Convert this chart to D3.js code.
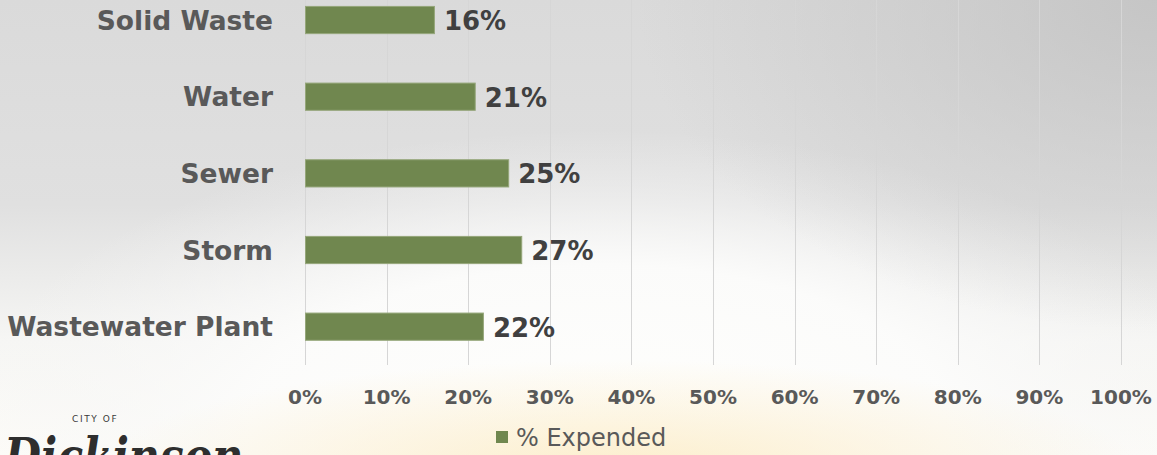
<!DOCTYPE html>
<html>
<head>
<meta charset="utf-8">
<script src="https://cdn.jsdelivr.net/npm/d3@7"></script>
<style>
  html, body { margin: 0; padding: 0; background: #ffffff; }
  svg { display: block; }
  text { font-family: "Century Gothic", "DejaVu Sans", sans-serif; }
</style>
</head>
<body>
<svg id="chart" width="1157" height="455"></svg>
<script>
// ---- data ----
const categories = ["Solid Waste", "Water", "Sewer", "Storm", "Wastewater Plant"];
const expended = [0.158, 0.208, 0.249, 0.265, 0.218];
const valueLabels = ["16%", "21%", "25%", "27%", "22%"];
const tickValues = [0, 0.1, 0.2, 0.3, 0.4, 0.5, 0.6, 0.7, 0.8, 0.9, 1.0];
const tickLabels = ["0%", "10%", "20%", "30%", "40%", "50%", "60%", "70%", "80%", "90%", "100%"];
const seriesName = "% Expended";

const W = 1157, H = 455;
const svg = d3.select("#chart");

// ---- background ----
const defs = svg.append("defs");
const lg = defs.append("linearGradient").attr("id", "bgLin").attr("x1", 0).attr("y1", 0).attr("x2", 0).attr("y2", 1);
lg.append("stop").attr("offset", "0%").attr("stop-color", "#dadada");
lg.append("stop").attr("offset", "45%").attr("stop-color", "#e0e0e0");
lg.append("stop").attr("offset", "75%").attr("stop-color", "#f6f6f4");
lg.append("stop").attr("offset", "100%").attr("stop-color", "#fdfcf8");
svg.append("rect").attr("width", W).attr("height", H).attr("fill", "url(#bgLin)");

// light dome in the lower middle
const rgW = defs.append("radialGradient").attr("id", "bgWhite")
  .attr("gradientUnits", "userSpaceOnUse")
  .attr("cx", 0).attr("cy", 0).attr("r", 1)
  .attr("gradientTransform", "translate(600,430) scale(640,300)");
rgW.append("stop").attr("offset", "0%").attr("stop-color", "#fefefc").attr("stop-opacity", 1);
rgW.append("stop").attr("offset", "55%").attr("stop-color", "#fcfcfb").attr("stop-opacity", 0.95);
rgW.append("stop").attr("offset", "100%").attr("stop-color", "#f4f4f4").attr("stop-opacity", 0);
svg.append("rect").attr("width", W).attr("height", H).attr("fill", "url(#bgWhite)");

// warm glow at the bottom
const rg = defs.append("radialGradient").attr("id", "bgWarm")
  .attr("gradientUnits", "userSpaceOnUse")
  .attr("cx", 0).attr("cy", 0).attr("r", 1)
  .attr("gradientTransform", "translate(620,470) scale(520,110)");
rg.append("stop").attr("offset", "0%").attr("stop-color", "#fcecc6").attr("stop-opacity", 0.9);
rg.append("stop").attr("offset", "100%").attr("stop-color", "#fcecc6").attr("stop-opacity", 0);
svg.append("rect").attr("width", W).attr("height", H).attr("fill", "url(#bgWarm)");

// darker top-right corner
const rg2 = defs.append("radialGradient").attr("id", "bgDark")
  .attr("gradientUnits", "userSpaceOnUse")
  .attr("cx", 0).attr("cy", 0).attr("r", 1)
  .attr("gradientTransform", "translate(1157,0) scale(520,330)");
rg2.append("stop").attr("offset", "0%").attr("stop-color", "#c2c2c2").attr("stop-opacity", 0.85);
rg2.append("stop").attr("offset", "100%").attr("stop-color", "#c2c2c2").attr("stop-opacity", 0);
svg.append("rect").attr("width", W).attr("height", H).attr("fill", "url(#bgDark)");

// ---- scales ----
const x = d3.scaleLinear().domain([0, 1]).range([305, 1121]);
const y = d3.scaleBand().domain(categories).range([-18.3, 365]).paddingInner(0.645).paddingOuter(0.3225);

// ---- gridlines ----
svg.append("g").selectAll("line").data(tickValues).join("line")
  .attr("x1", d => Math.round(x(d)) + 0.5).attr("x2", d => Math.round(x(d)) + 0.5)
  .attr("y1", 0).attr("y2", 365)
  .attr("stroke", "#d6d6d6").attr("stroke-width", 1);

// ---- x tick labels ----
svg.append("g").selectAll("text").data(tickValues).join("text")
  .attr("x", d => x(d)).attr("y", 404)
  .attr("text-anchor", "middle")
  .attr("font-size", 20).attr("font-weight", "bold").attr("fill", "#595959")
  .text((d, i) => tickLabels[i]);

// ---- bars ----
const data = categories.map((c, i) => ({ c, v: expended[i], l: valueLabels[i] }));
svg.append("g").selectAll("rect").data(data).join("rect")
  .attr("x", x(0) + 0.5)
  .attr("y", d => y(d.c))
  .attr("width", d => x(d.v) - x(0))
  .attr("height", y.bandwidth())
  .attr("fill", "#70874f")
  .attr("stroke", "#95a67a").attr("stroke-width", 1);

// ---- value labels ----
svg.append("g").selectAll("text").data(data).join("text")
  .attr("x", d => x(d.v) + 10)
  .attr("y", d => y(d.c) + y.bandwidth() / 2)
  .attr("dy", "0.38em")
  .attr("font-size", 26).attr("font-weight", "bold").attr("fill", "#404040")
  .text(d => d.l);

// ---- category labels ----
svg.append("g").selectAll("text").data(categories).join("text")
  .attr("x", 273)
  .attr("y", d => y(d) + y.bandwidth() / 2)
  .attr("dy", "0.36em")
  .attr("text-anchor", "end")
  .attr("font-size", 26.5).attr("font-weight", "bold").attr("fill", "#595959")
  .text(d => d);

// ---- legend ----
const leg = svg.append("g");
leg.append("rect").attr("x", 496).attr("y", 431).attr("width", 12).attr("height", 12).attr("fill", "#70874f");
leg.append("text").attr("x", 516).attr("y", 446)
  .attr("font-size", 24).attr("fill", "#595959").text(seriesName);

// ---- logo ----
const logo = svg.append("g");
logo.append("text").attr("x", 72).attr("y", 422)
  .attr("font-size", 9).attr("letter-spacing", 1.6).attr("fill", "#3a3a3a")
  .style("font-family", "'DejaVu Sans', sans-serif").text("CITY OF");
logo.append("text")
  .attr("transform", "translate(4,475) scale(0.82,1)")
  .attr("font-size", 52).attr("font-style", "italic").attr("font-weight", "bold").attr("fill", "#2e2e2e")
  .style("font-family", "'DejaVu Serif', serif").text("Dickinson");
</script>
</body>
</html>
